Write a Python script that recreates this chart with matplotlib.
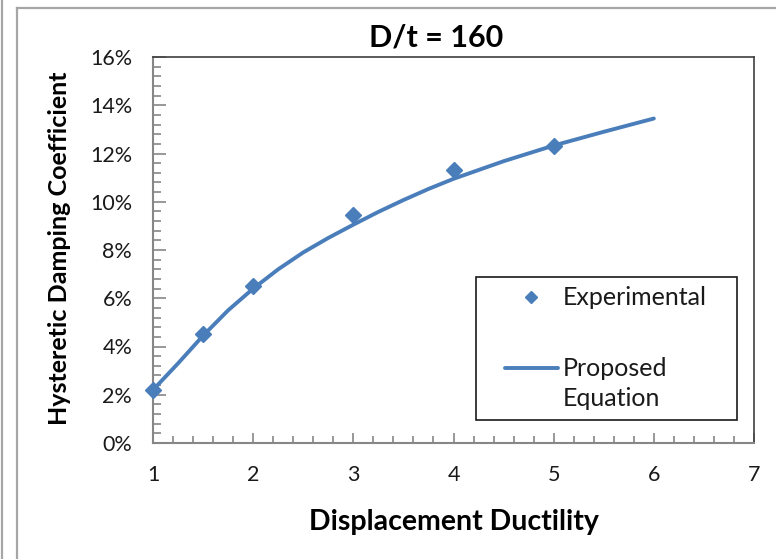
import numpy as np
import matplotlib.pyplot as plt
from matplotlib.lines import Line2D
from matplotlib.patches import Rectangle
from matplotlib.ticker import MultipleLocator, PercentFormatter

plt.rcParams['font.family'] = ['Lato', 'DejaVu Sans']

# Experimental points (damping in %)
exp_ductility = [1, 1.5, 2, 3, 4, 5]
exp_damping = [2.2, 4.5, 6.5, 9.45, 11.3, 12.3]

# Proposed equation curve
eq_ductility = [1, 1.25, 1.5, 1.75, 2, 2.25, 2.5, 2.75, 3, 3.25, 3.5, 3.75,
                4, 4.5, 5, 5.5, 6]
eq_damping = [2.2, 3.3, 4.45, 5.5, 6.4, 7.2, 7.9, 8.5, 9.05, 9.58, 10.07,
              10.53, 10.95, 11.68, 12.33, 12.9, 13.45]

blue = '#4a7ebb'
grey = '#868686'

fig = plt.figure(figsize=(7.76, 5.59), dpi=100)
ax = fig.add_axes([153 / 776, 1 - 443 / 559, 601 / 776, 386 / 559])

ax.plot(eq_ductility, eq_damping, color=blue, lw=2.8, solid_capstyle='round',
        solid_joinstyle='round', zorder=3)
ax.plot(exp_ductility, exp_damping, linestyle='none', marker='D', ms=7.8,
        color=blue, clip_on=False, zorder=4)

ax.set_xlim(1, 7)
ax.set_ylim(0, 16)
ax.xaxis.set_major_locator(MultipleLocator(1))
ax.xaxis.set_minor_locator(MultipleLocator(0.2))
ax.yaxis.set_major_locator(MultipleLocator(2))
ax.yaxis.set_minor_locator(MultipleLocator(0.4))
ax.yaxis.set_major_formatter(PercentFormatter(decimals=0))

ax.tick_params(which='both', direction='in', color=grey, width=1.2,
               labelsize=15.5, labelcolor='#1a1a1a')
ax.tick_params(axis='x', which='major', length=7, pad=16)
ax.tick_params(axis='x', which='minor', length=5)
ax.tick_params(axis='y', which='major', length=9, pad=15)
ax.tick_params(axis='y', which='minor', length=6)

for side in ['left', 'bottom']:
    ax.spines[side].set_color(grey)
    ax.spines[side].set_linewidth(1.5)
for side in ['top', 'right']:
    ax.spines[side].set_color('#404040')
    ax.spines[side].set_linewidth(1.2)

# legend drawn by hand, Excel style (handle aligned with first label line)
ax.add_patch(Rectangle((0.537, 0.060), 0.435, 0.370, transform=ax.transAxes,
                       fill=False, edgecolor='#1a1a1a', lw=1.2, zorder=5))
ax.plot([0.629], [0.378], marker='D', ms=6, color=blue, linestyle='none',
        transform=ax.transAxes, clip_on=False)
ax.text(0.682, 0.378, 'Experimental', transform=ax.transAxes, fontsize=18,
        va='center', ha='left', color='#1a1a1a')
ax.plot([0.586, 0.674], [0.194, 0.194], color=blue, lw=2.8,
        solid_capstyle='round', transform=ax.transAxes, clip_on=False)
ax.text(0.682, 0.194, 'Proposed', transform=ax.transAxes, fontsize=18,
        va='center', ha='left', color='#1a1a1a')
ax.text(0.682, 0.114, 'Equation', transform=ax.transAxes, fontsize=18,
        va='center', ha='left', color='#1a1a1a')

fig.text(436 / 776, 1 - 37 / 559, 'D/t = 160', ha='center', va='center',
         fontsize=22, fontweight='bold')
fig.text(454 / 776, 1 - 522 / 559, 'Displacement Ductility', ha='center',
         va='center', fontsize=20.5, fontweight='bold')
fig.text(60 / 776, 1 - 248 / 559, 'Hysteretic Damping Coefficient', ha='center',
         va='center', rotation=90, fontsize=18, fontweight='bold')

# outer chart frame
fig.add_artist(Line2D([17 / 776, 17 / 776], [0, 1 - 8 / 559], color='#a6a6a6',
                      lw=1.6, transform=fig.transFigure))
fig.add_artist(Line2D([17 / 776, 1], [1 - 8 / 559, 1 - 8 / 559], color='#a6a6a6',
                      lw=1.6, transform=fig.transFigure))
fig.add_artist(Line2D([2 / 776, 2 / 776], [0, 1], color='#a6a6a6',
                      lw=1.6, transform=fig.transFigure))

fig.savefig('out.png', dpi=100)
